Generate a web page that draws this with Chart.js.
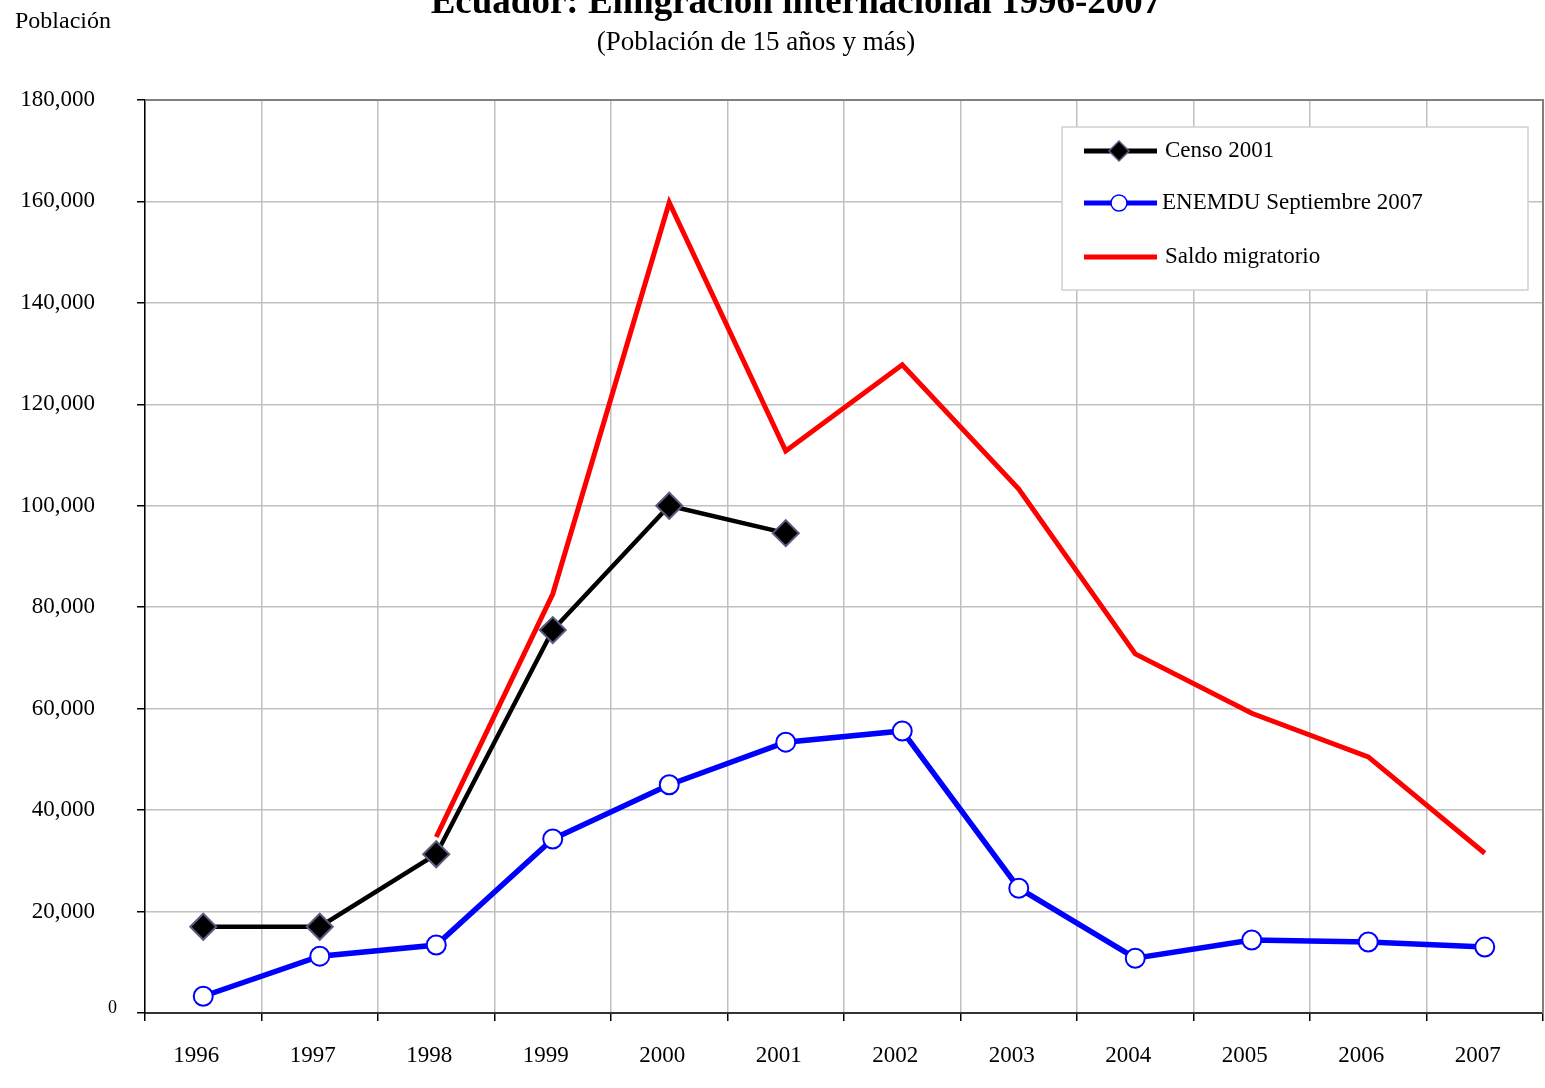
<!DOCTYPE html>
<html>
<head>
<meta charset="utf-8">
<script src="https://cdn.jsdelivr.net/npm/chart.js@4.4.1/dist/chart.umd.min.js"></script>
<style>
  html, body { margin: 0; background: #fff; overflow: hidden; }
  canvas { display: block; }
</style>
</head>
<body>
<canvas id="chart" width="1545" height="1088"></canvas>
<script>
const years = ['1996', '1997', '1998', '1999', '2000', '2001', '2002', '2003', '2004', '2005', '2006', '2007'];
const censo = [17000, 17000, 31300, 75500, 100000, 94600, null, null, null, null, null, null];
const enemdu = [3300, 11200, 13400, 34300, 45000, 53400, 55600, 24600, 10800, 14400, 14000, 13000];
const saldo = [null, null, 34700, 82600, 159800, 110800, 127800, 103300, 70800, 59100, 50500, 31500];
const yTicks = [0, 20000, 40000, 60000, 80000, 100000, 120000, 140000, 160000, 180000];

const serif = "'Liberation Serif', 'Times New Roman', serif";
Chart.defaults.font.family = serif;
Chart.defaults.color = '#000';

// titles, plot frame, custom legend
const decor = {
  id: 'decor',
  afterDraw(chart) {
    const ctx = chart.ctx;
    const a = chart.chartArea;
    ctx.save();
    // grey frame top / right
    ctx.strokeStyle = '#808080';
    ctx.lineWidth = 2;
    ctx.beginPath();
    ctx.moveTo(a.left, a.top);
    ctx.lineTo(a.right, a.top);
    ctx.lineTo(a.right, a.bottom);
    ctx.stroke();

    ctx.fillStyle = '#000';
    ctx.textAlign = 'center';
    ctx.textBaseline = 'alphabetic';
    ctx.font = 'bold 37px ' + serif;
    ctx.fillText('Ecuador: Emigración internacional 1996-2007', 796, 13);
    ctx.textBaseline = 'middle';
    ctx.font = '27px ' + serif;
    ctx.fillText('(Población de 15 años y más)', 756, 43);
    ctx.textAlign = 'left';
    ctx.font = '24px ' + serif;
    ctx.fillText('Población', 15, 22);

    // zero label, smaller, as in the source
    const y0 = chart.scales.y.getPixelForValue(0);
    ctx.textAlign = 'right';
    ctx.font = '18px ' + serif;
    ctx.fillText('0', 117, y0 - 5);

    // legend
    const bx = 1062, by = 127, bw = 466, bh = 163;
    ctx.fillStyle = '#fff';
    ctx.fillRect(bx, by, bw, bh);
    ctx.strokeStyle = '#d0d0d0';
    ctx.lineWidth = 1.5;
    ctx.strokeRect(bx, by, bw, bh);
    const rows = [151, 203, 257];
    const textX = [1165, 1162, 1165];
    const markR = [10, 8, 0];
    chart.data.datasets.forEach((ds, i) => {
      const y = rows[i];
      ctx.strokeStyle = ds.borderColor;
      ctx.lineWidth = 5;
      ctx.beginPath();
      ctx.moveTo(1084, y);
      ctx.lineTo(1157, y);
      ctx.stroke();
      if (markR[i] > 0) {
        ctx.fillStyle = ds.pointBackgroundColor;
        ctx.strokeStyle = ds.pointBorderColor;
        ctx.lineWidth = 1.5;
        Chart.helpers.drawPoint(ctx, { pointStyle: ds.pointStyle, radius: markR[i], rotation: 0, borderWidth: 1.5 }, 1119, y);
      }
      ctx.fillStyle = '#000';
      ctx.textAlign = 'left';
      ctx.textBaseline = 'middle';
      ctx.font = '23px ' + serif;
      ctx.fillText(ds.label, textX[i], y);
    });
    ctx.restore();
  }
};

new Chart(document.getElementById('chart'), {
  type: 'line',
  data: {
    labels: years,
    datasets: [
      {
        label: 'Censo 2001',
        data: censo,
        borderColor: '#000',
        borderWidth: 4.5,
        pointStyle: 'rectRot',
        pointRadius: 13,
        pointBackgroundColor: '#000',
        pointBorderColor: '#5a5a80',
        pointBorderWidth: 2,
        order: 1
      },
      {
        label: 'ENEMDU Septiembre 2007',
        data: enemdu,
        borderColor: '#0000ff',
        borderWidth: 5.5,
        pointStyle: 'circle',
        pointRadius: 9.5,
        pointBackgroundColor: '#fff',
        pointBorderColor: '#0000ff',
        pointBorderWidth: 2,
        order: 2
      },
      {
        label: 'Saldo migratorio',
        data: saldo,
        borderColor: '#ff0000',
        borderWidth: 5,
        pointRadius: 0,
        pointBackgroundColor: '#ff0000',
        pointBorderColor: '#ff0000',
        order: 0
      }
    ]
  },
  options: {
    responsive: false,
    animation: false,
    layout: { autoPadding: false, padding: { top: 100, right: 2, left: 0, bottom: 0 } },
    plugins: {
      legend: { display: false },
      title: { display: false },
      tooltip: { enabled: false }
    },
    scales: {
      x: {
        offset: true,
        grid: {
          offset: true,
          color: '#c0c0c0',
          lineWidth: 1.5,
          tickLength: 8,
          tickColor: '#000',
          tickWidth: 1.5
        },
        border: { color: '#333', width: 2 },
        ticks: {
          font: { size: 23 },
          padding: 21,
          labelOffset: -7,
          maxRotation: 0
        },
        afterFit(scale) {
          scale.height = 75;
          scale.paddingLeft = 0;
          scale.paddingRight = 0;
        }
      },
      y: {
        min: 0,
        max: 180000,
        afterBuildTicks(scale) { scale.ticks = yTicks.map(v => ({ value: v })); },
        grid: {
          color: '#c0c0c0',
          lineWidth: 1.5,
          tickLength: 8,
          tickColor: '#000',
          tickWidth: 1.5
        },
        border: { color: '#000', width: 1.5 },
        ticks: {
          font: { size: 23 },
          padding: 42,
          callback: v => v === 0 ? '' : v.toLocaleString('en-US')
        },
        afterFit(scale) {
          scale.width = 145;
          scale.paddingTop = 0;
          scale.paddingBottom = 0;
        }
      }
    }
  },
  plugins: [decor]
});
</script>
</body>
</html>
